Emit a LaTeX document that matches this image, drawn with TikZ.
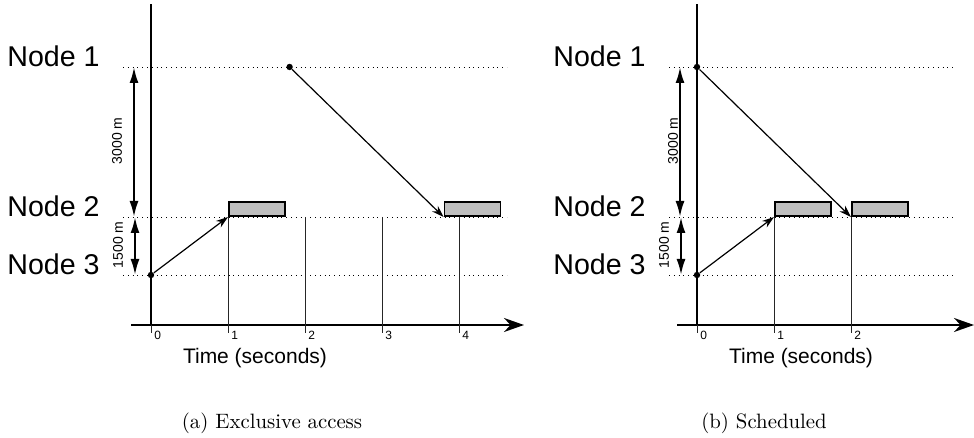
\documentclass[tikz,border=0pt]{standalone}
\usepackage{fontspec}
\setsansfont{Liberation Sans}
\usetikzlibrary{arrows.meta}

\tikzset{
  level/.style={dotted, line width=0.4pt},
  msg/.style={-{Stealth[length=6pt,width=4pt]}, line width=0.6pt},
  dist/.style={{Latex[length=8pt,width=4.5pt]}-{Latex[length=8pt,width=4.5pt]}, line width=1.1pt},
  slot/.style={draw, line width=0.9pt, fill=black!25, minimum width=28pt, minimum height=7pt, inner sep=0pt, anchor=south west},
  tickline/.style={line width=0.4pt, black!85},
  dot/.style={circle, fill, inner sep=0pt, minimum size=3.2pt},
  nodelabel/.style={font=\sffamily\fontsize{14.3}{16}\selectfont, anchor=base east, inner sep=0pt},
  ticklabel/.style={font=\sffamily\fontsize{6}{7}\selectfont, anchor=north west, inner sep=0pt},
  distlabel/.style={font=\sffamily\fontsize{7}{8}\selectfont, rotate=90, inner sep=0pt},
  caption/.style={font=\fontsize{10.4}{12}\selectfont, anchor=base, inner sep=0pt},
}

% axes, levels and distances of one panel
% #1 = end of the dotted levels, #2 = end of the time axis, #3 = x of the 3000 m label
\newcommand{\panelframe}[3]{%
  \draw[line width=1.2pt] (0,0) -- (0,321);
  \draw[line width=0.9pt, -{Stealth[length=10pt,width=7pt]}] (-20,0) -- (#2,0);
  \foreach \y/\n in {258/1,108/2,50/3} {
    \draw[level] (-28,\y) -- (#1,\y);
    \node[nodelabel] (node\n) at (-51,\y) {Node \n};
  }
  \draw[dist] (-17,258) -- (-17,108);
  \draw[dist] (-16,108) -- (-16,50);
  \node[distlabel] (d12) at (#3,184) {3000 m};
  \node[distlabel] (d23) at (-33,80) {1500 m};
  \draw[tickline] (0,0) -- (0,-8);
  \node[ticklabel] (t0) at (3,-6) {0};
  \node[font=\sffamily\fontsize{10.5}{12}\selectfont] (time) at (104,-33) {Time (seconds)};
}

\begin{document}
\begin{tikzpicture}[x=0.5pt, y=0.5pt]
\useasboundingbox (0,0) rectangle (974,438);

% (a) one node at a time
\begin{scope}[shift={(151,113)}, name prefix=a-]
  \panelframe{356}{373}{-34}
  \foreach \t in {1,...,4} {
    \draw[tickline] (77*\t,108) -- (77*\t,-8);
    \node[ticklabel] (t\t) at (77*\t+3,-6) {\t};
  }
  \node[slot] (s1) at (77,108) {};
  \node[slot] (s2) at (3.8*77,108) {};
  \node[dot] (tx3) at (0,50) {};
  \node[dot] (tx1) at (1.8*77,258) {};
  \draw[msg] (tx3) -- (s1.south west);
  \draw[msg] (tx1) -- (s2.south west);
\end{scope}

% (b) both nodes send at once
\begin{scope}[shift={(697,113)}, name prefix=b-]
  \panelframe{258}{277}{-24}
  \foreach \t in {1,2} {
    \draw[tickline] (77*\t,108) -- (77*\t,-8);
    \node[ticklabel] (t\t) at (77*\t+3,-6) {\t};
  }
  \node[slot] (s1) at (77,108) {};
  \node[slot] (s2) at (2*77,108) {};
  \node[dot] (tx3) at (0,50) {};
  \node[dot] (tx1) at (0,258) {};
  \draw[msg] (tx3) -- (s1.south west);
  \draw[msg] (tx1) -- (s2.south west);
\end{scope}

\node[caption] (capa) at (272,9) {(a) Exclusive access};
\node[caption] (capb) at (764,9) {(b) Scheduled};
\end{tikzpicture}
\end{document}
